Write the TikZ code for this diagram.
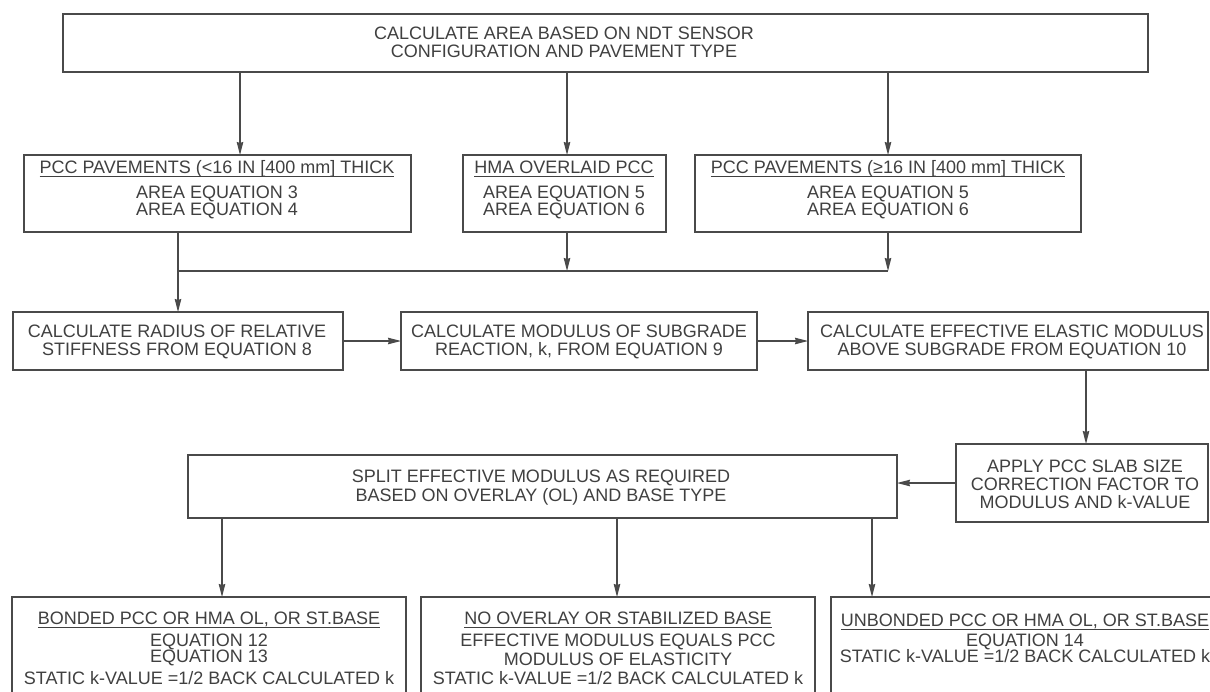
\documentclass[tikz,border=0pt]{standalone}
\usepackage{fontspec}
\setmainfont{Liberation Sans}
\usetikzlibrary{arrows.meta}
\definecolor{txtgray}{HTML}{404040}
\definecolor{linegray}{HTML}{4a4a4a}
\tikzset{
  box/.style={draw=linegray, line width=1.2pt, inner sep=0pt, outer sep=0pt, fill=none},
  txt/.style={text=txtgray, inner sep=0pt, outer sep=0pt, anchor=base, font=\fontsize{18}{17}\selectfont},
  conn/.style={draw=linegray, line width=1.2pt},
  arr/.style={conn, -{Stealth[length=13pt,width=6.5pt,inset=1pt]}},
  uline/.style={draw=txtgray, line width=1pt}
}
\newcommand\mkbox[5]{\node[box, minimum width={(#4)-(#2)}, minimum height={(#5)-(#3)}] (#1) at ({((#2)+(#4))/2},{((#3)+(#5))/2}) {};}
\begin{document}
\begin{tikzpicture}[x=1pt,y=-1pt]
\useasboundingbox (0,0) rectangle (1210,691);
\clip (0,0) rectangle (1210,691);
\fill[white] (0,0) rectangle (1210,691);

% boxes
\mkbox{T}{63}{14}{1148}{72}
\mkbox{A}{24}{155}{411}{232}
\mkbox{B}{463}{155}{666}{232}
\mkbox{C}{695}{155}{1081}{232}
\mkbox{D}{13}{312}{343}{370}
\mkbox{E}{401}{312}{757}{370}
\mkbox{F}{808}{312}{1208}{370}
\mkbox{G}{956}{444}{1208}{522}
\mkbox{H}{188}{455}{897}{518}
\mkbox{I}{12}{597}{406}{720}
\mkbox{J}{421}{597}{815}{720}
\mkbox{K}{831}{597}{1219}{720}

% texts
\node[txt] (T1) at (564,39) {CALCULATE AREA BASED ON NDT SENSOR};
\node[txt] (T2) at (564,57) {CONFIGURATION AND PAVEMENT TYPE};

\node[txt] (At) at (217,173) {PCC PAVEMENTS (<16 IN [400 mm] THICK};
\node[txt] (A1) at (217,198) {AREA EQUATION 3};
\node[txt] (A2) at (217,215) {AREA EQUATION 4};

\node[txt] (Bt) at (564,173) {HMA OVERLAID PCC};
\node[txt] (B1) at (564,198) {AREA EQUATION 5};
\node[txt] (B2) at (564,215) {AREA EQUATION 6};

\node[txt] (Ct) at (888,173) {PCC PAVEMENTS (≥16 IN [400 mm] THICK};
\node[txt] (C1) at (888,198) {AREA EQUATION 5};
\node[txt] (C2) at (888,215) {AREA EQUATION 6};

\node[txt] (D1) at (177,337) {CALCULATE RADIUS OF RELATIVE};
\node[txt] (D2) at (177,355) {STIFFNESS FROM EQUATION 8};

\node[txt] (E1) at (579,337) {CALCULATE MODULUS OF SUBGRADE};
\node[txt] (E2) at (579,355) {REACTION, k, FROM EQUATION 9};

\node[txt] (F1) at (1012,337) {CALCULATE EFFECTIVE ELASTIC MODULUS};
\node[txt] (F2) at (1012,355) {ABOVE SUBGRADE FROM EQUATION 10};

\node[txt] (G1) at (1085,472) {APPLY PCC SLAB SIZE};
\node[txt] (G2) at (1085,490) {CORRECTION FACTOR TO};
\node[txt] (G3) at (1085,508) {MODULUS AND k-VALUE};

\node[txt] (H1) at (541,482) {SPLIT EFFECTIVE MODULUS AS REQUIRED};
\node[txt] (H2) at (541,501) {BASED ON OVERLAY (OL) AND BASE TYPE};

\node[txt] (It) at (209,624) {BONDED PCC OR HMA OL, OR ST.BASE};
\node[txt] (I1) at (209,646) {EQUATION 12};
\node[txt] (I2) at (209,662) {EQUATION 13};
\node[txt] (I3) at (209,684) {STATIC k-VALUE =1/2 BACK CALCULATED k};

\node[txt] (Jt) at (618,624) {NO OVERLAY OR STABILIZED BASE};
\node[txt] (J1) at (618,646) {EFFECTIVE MODULUS EQUALS PCC};
\node[txt] (J2) at (618,665) {MODULUS OF ELASTICITY};
\node[txt] (J3) at (618,684) {STATIC k-VALUE =1/2 BACK CALCULATED k};

\node[txt] (Kt) at (1025,626) {UNBONDED PCC OR HMA OL, OR ST.BASE};
\node[txt] (K1) at (1025,646) {EQUATION 14};
\node[txt] (K2) at (1025,662) {STATIC k-VALUE =1/2 BACK CALCULATED k};

% underlines
\foreach \n in {At,Bt,Ct,It,Jt,Kt}
  \draw[uline] ([yshift=-3.5pt]\n.base west) -- ([yshift=-3.5pt]\n.base east);

% connector x/y positions
\coordinate (xa) at (240,0);
\coordinate (xb) at (567,0);
\coordinate (xc) at (888,0);
\coordinate (jy) at (0,271);
\coordinate (xg) at (1086,0);
\coordinate (xi) at (222,0);
\coordinate (xj) at (617,0);
\coordinate (xk) at (872,0);

% connectors
\draw[arr] (T.south -| xa) -- (A.north -| xa);
\draw[arr] (T.south -| xb) -- (B.north -| xb);
\draw[arr] (T.south -| xc) -- (C.north -| xc);

\draw[conn] (A.south -| D.north) -- (D.north |- jy);
\draw[arr] (D.north |- jy) -- (D.north);
\draw[arr] (B.south -| xb) -- (xb |- jy);
\draw[arr] (C.south -| xc) -- (xc |- jy);
\draw[conn] (D.north |- jy) -- (xc |- jy);

\draw[arr] (D.east) -- (E.west);
\draw[arr] (E.east) -- (F.west);
\draw[arr] (F.south -| xg) -- (G.north -| xg);
\draw[arr] (G.west) -- (G.west -| H.east);

\draw[arr] (H.south -| xi) -- (I.north -| xi);
\draw[arr] (H.south -| xj) -- (J.north -| xj);
\draw[arr] (H.south -| xk) -- (K.north -| xk);
\end{tikzpicture}
\end{document}
